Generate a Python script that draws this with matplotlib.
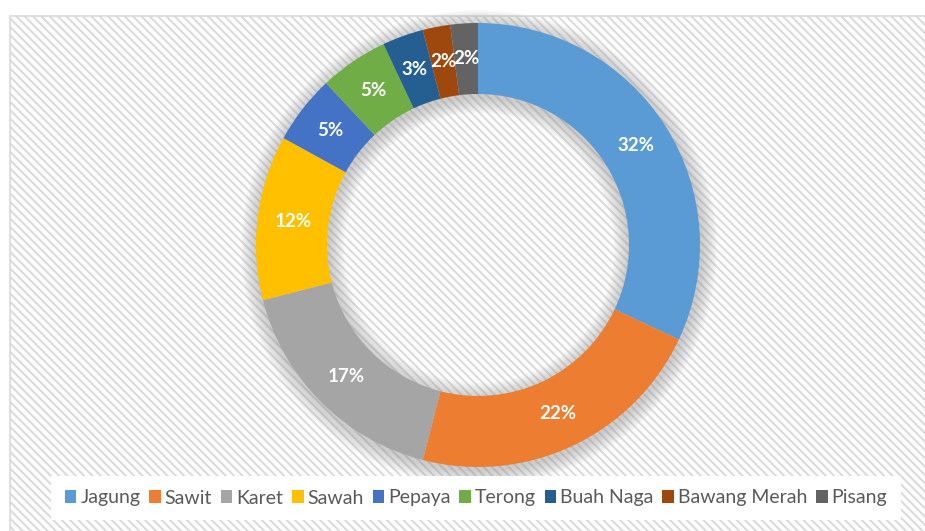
import numpy as np
import matplotlib.pyplot as plt
from matplotlib.patches import Rectangle, Wedge, Patch

plt.rcParams['font.family'] = ['Lato', 'DejaVu Sans']
plt.rcParams['hatch.color'] = '#f3f3f3'
plt.rcParams['hatch.linewidth'] = 1.4

crops = ['Jagung', 'Sawit', 'Karet', 'Sawah', 'Pepaya', 'Terong',
         'Buah Naga', 'Bawang Merah', 'Pisang']
shares = [32, 22, 17, 12, 5, 5, 3, 2, 2]
colors = ['#5B9BD5', '#ED7D31', '#A5A5A5', '#FFC000', '#4472C4',
          '#70AD47', '#255E91', '#9E480E', '#636363']

W, H = 925, 531
fig = plt.figure(figsize=(W / 100, H / 100), dpi=100)
ax = fig.add_axes([0, 0, 1, 1])

# chart area: white with faint diagonal stripes, grey border
ax.add_patch(Rectangle((10, -20), W + 20, H - 6 - 10 + 20, facecolor='#fdfdfd',
                       edgecolor='#dadada', lw=1.2, hatch='\\\\\\\\', zorder=0))

cx, cy = 478, H - 245
r_out, width = 222, 71

# soft shadow around the ring
for k in range(10):
    ax.add_patch(Wedge((cx + 1, cy - 3), r_out + 16 - k * 1.6, 0, 360,
                       width=width + 32 - k * 3.2, facecolor='#8f8f8f',
                       edgecolor='none', alpha=0.05, zorder=1))

wedges, _ = ax.pie(shares, colors=colors, startangle=90, counterclock=False,
                   center=(cx, cy), radius=r_out, frame=True,
                   wedgeprops=dict(width=width, edgecolor='none', zorder=2))
ax.set_xlim(0, W)
ax.set_ylim(0, H)
ax.axis('off')

r_lab = r_out - width / 2
start = 90
for val in shares:
    mid = np.deg2rad(start - val * 360 / 100 / 2)
    ax.text(cx + r_lab * np.cos(mid), cy + r_lab * np.sin(mid), f'{val}%',
            ha='center', va='center', color='white', fontsize=13.5,
            fontweight='bold', zorder=3)
    start -= val * 360 / 100

handles = [Patch(facecolor=c, edgecolor='none') for c in colors]
leg = ax.legend(handles, crops, loc='center', bbox_to_anchor=(476 / W, 1 - 498 / H),
                ncol=len(crops), frameon=True, fancybox=False, fontsize=14,
                handlelength=0.6, handleheight=0.6, handletextpad=0.2,
                columnspacing=0.45, borderpad=0.7, labelcolor='#595959')
leg.get_frame().set_facecolor('white')
leg.get_frame().set_edgecolor('none')
leg.get_frame().set_alpha(1)

fig.savefig('out.png', dpi=100)
